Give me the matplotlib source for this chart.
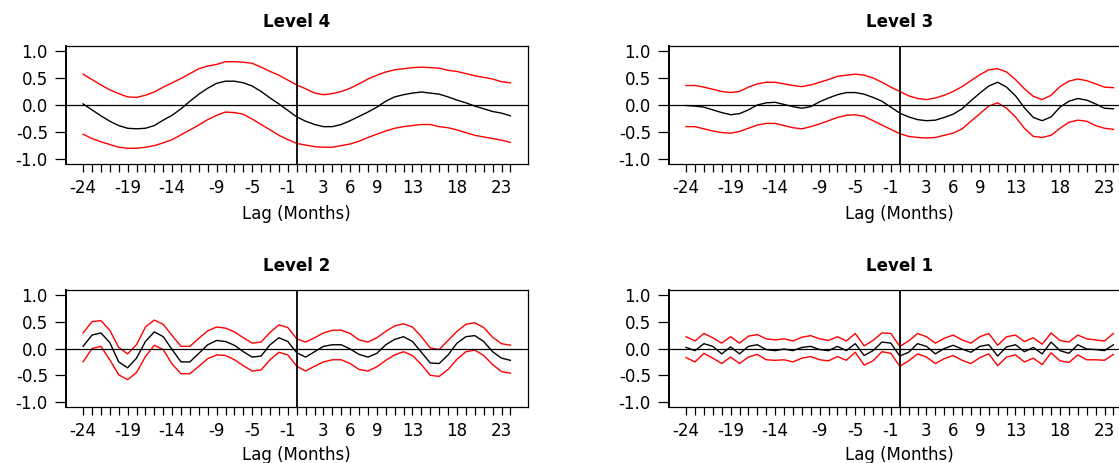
import matplotlib
matplotlib.use("Agg")
import matplotlib.pyplot as plt

plt.rcParams['font.family'] = ['DejaVu Sans']
plt.rcParams['axes.unicode_minus'] = False

lags = list(range(-24, 25))
shown_xtick_labels = [-24, -19, -14, -9, -5, -1, 3, 6, 9, 13, 18, 23]
ytick_values = [-1.0, -0.5, 0.0, 0.5, 1.0]
ytick_labels = ["-1.0", "-0.5", "0.0", "0.5", "1.0"]
titles = ["Level 4", "Level 3", "Level 2", "Level 1"]
xlabel_text = "Lag (Months)"

level4_ccf = [0.02, -0.09, -0.20, -0.30, -0.38, -0.43, -0.44, -0.43, -0.38, -0.28, -0.19, -0.07, 0.07,
              0.20, 0.31, 0.40, 0.44, 0.44, 0.41, 0.35, 0.25, 0.13, 0.02, -0.10, -0.22,
              -0.30, -0.36, -0.40, -0.40, -0.36, -0.29, -0.21, -0.13, -0.04, 0.07, 0.15, 0.19,
              0.22, 0.24, 0.22, 0.20, 0.15, 0.09, 0.04, -0.02, -0.07, -0.12, -0.15, -0.20]
level4_upper = [0.57, 0.47, 0.37, 0.28, 0.21, 0.15, 0.14, 0.18, 0.24, 0.33, 0.41, 0.49, 0.58,
                0.67, 0.72, 0.75, 0.80, 0.80, 0.79, 0.77, 0.70, 0.62, 0.55, 0.46, 0.37,
                0.30, 0.22, 0.19, 0.21, 0.25, 0.31, 0.39, 0.48, 0.55, 0.61, 0.65, 0.67,
                0.69, 0.70, 0.69, 0.68, 0.64, 0.62, 0.58, 0.54, 0.51, 0.48, 0.43, 0.41]
level4_lower = [-0.54, -0.62, -0.68, -0.73, -0.78, -0.80, -0.80, -0.78, -0.75, -0.70, -0.64, -0.55, -0.46,
                -0.37, -0.27, -0.19, -0.13, -0.14, -0.17, -0.26, -0.36, -0.46, -0.56, -0.64, -0.71,
                -0.74, -0.77, -0.78, -0.78, -0.75, -0.72, -0.67, -0.60, -0.54, -0.48, -0.43, -0.40,
                -0.38, -0.36, -0.36, -0.40, -0.42, -0.46, -0.51, -0.56, -0.59, -0.62, -0.65, -0.69]

level3_ccf = [-0.01, -0.02, -0.04, -0.09, -0.14, -0.18, -0.16, -0.09, 0.00, 0.04, 0.05, 0.01, -0.03,
              -0.06, -0.03, 0.06, 0.13, 0.19, 0.23, 0.23, 0.20, 0.14, 0.07, -0.04, -0.15,
              -0.22, -0.27, -0.29, -0.28, -0.23, -0.17, -0.07, 0.08, 0.22, 0.35, 0.42, 0.33,
              0.17, -0.05, -0.23, -0.29, -0.22, -0.04, 0.07, 0.12, 0.09, 0.02, -0.06, -0.07]
level3_upper = [0.36, 0.36, 0.33, 0.29, 0.25, 0.23, 0.25, 0.33, 0.39, 0.42, 0.42, 0.39, 0.36,
                0.34, 0.37, 0.42, 0.47, 0.53, 0.55, 0.57, 0.55, 0.50, 0.42, 0.33, 0.25,
                0.17, 0.12, 0.10, 0.13, 0.18, 0.25, 0.34, 0.45, 0.56, 0.65, 0.67, 0.61,
                0.47, 0.30, 0.16, 0.10, 0.18, 0.34, 0.44, 0.48, 0.45, 0.39, 0.33, 0.32]
level3_lower = [-0.40, -0.40, -0.44, -0.48, -0.51, -0.52, -0.49, -0.43, -0.37, -0.34, -0.34, -0.38, -0.42,
                -0.44, -0.40, -0.35, -0.29, -0.23, -0.19, -0.18, -0.21, -0.29, -0.37, -0.45, -0.53,
                -0.58, -0.60, -0.61, -0.60, -0.56, -0.52, -0.44, -0.30, -0.16, -0.02, 0.04, -0.06,
                -0.22, -0.43, -0.58, -0.60, -0.56, -0.43, -0.32, -0.28, -0.30, -0.38, -0.43, -0.45]

level2_ccf = [0.04, 0.25, 0.29, 0.11, -0.25, -0.36, -0.18, 0.13, 0.31, 0.22, -0.02, -0.25, -0.25,
              -0.09, 0.07, 0.15, 0.13, 0.06, -0.06, -0.16, -0.14, 0.07, 0.20, 0.13, -0.08,
              -0.16, -0.06, 0.04, 0.07, 0.07, -0.01, -0.11, -0.16, -0.09, 0.07, 0.17, 0.22,
              0.13, -0.07, -0.27, -0.28, -0.12, 0.10, 0.22, 0.24, 0.13, -0.06, -0.18, -0.22]
level2_upper = [0.29, 0.50, 0.52, 0.34, 0.02, -0.10, 0.07, 0.40, 0.53, 0.45, 0.24, 0.04, 0.04,
                0.19, 0.33, 0.40, 0.38, 0.31, 0.20, 0.10, 0.12, 0.30, 0.44, 0.39, 0.18,
                0.12, 0.20, 0.29, 0.34, 0.34, 0.28, 0.16, 0.12, 0.20, 0.32, 0.42, 0.46,
                0.40, 0.22, 0.01, -0.02, 0.15, 0.32, 0.45, 0.48, 0.39, 0.21, 0.09, 0.06]
level2_lower = [-0.25, 0.00, 0.04, -0.21, -0.49, -0.58, -0.45, -0.15, 0.06, -0.02, -0.29, -0.47, -0.47,
                -0.33, -0.19, -0.12, -0.13, -0.21, -0.32, -0.42, -0.40, -0.21, -0.07, -0.12, -0.33,
                -0.42, -0.33, -0.25, -0.21, -0.21, -0.28, -0.39, -0.42, -0.34, -0.22, -0.12, -0.06,
                -0.13, -0.30, -0.50, -0.52, -0.39, -0.20, -0.06, -0.03, -0.13, -0.30, -0.43, -0.46]

level1_ccf = [0.02, -0.04, 0.09, 0.04, -0.10, 0.03, -0.10, 0.04, 0.07, -0.02, -0.04, -0.01, -0.04,
              0.02, 0.04, -0.02, -0.04, 0.04, -0.04, 0.09, -0.13, -0.04, 0.12, 0.10, -0.14,
              -0.07, 0.09, 0.04, -0.10, 0.00, 0.06, -0.01, -0.07, 0.04, 0.07, -0.14, 0.03,
              0.07, -0.06, 0.02, -0.10, 0.12, -0.04, -0.09, 0.07, -0.01, -0.02, -0.04, 0.07]
level1_upper = [0.22, 0.14, 0.28, 0.20, 0.10, 0.22, 0.10, 0.23, 0.26, 0.18, 0.16, 0.18, 0.14,
                0.21, 0.24, 0.18, 0.15, 0.22, 0.14, 0.28, 0.05, 0.15, 0.29, 0.28, 0.04,
                0.14, 0.28, 0.22, 0.10, 0.19, 0.25, 0.16, 0.10, 0.22, 0.28, 0.06, 0.22,
                0.25, 0.13, 0.20, 0.08, 0.29, 0.15, 0.12, 0.25, 0.18, 0.16, 0.14, 0.28]
level1_lower = [-0.17, -0.25, -0.09, -0.18, -0.28, -0.16, -0.28, -0.16, -0.11, -0.21, -0.22, -0.21, -0.25,
                -0.18, -0.15, -0.21, -0.23, -0.15, -0.22, -0.07, -0.31, -0.23, -0.06, -0.09, -0.33,
                -0.23, -0.10, -0.16, -0.28, -0.19, -0.13, -0.22, -0.28, -0.17, -0.10, -0.32, -0.16,
                -0.12, -0.25, -0.18, -0.30, -0.08, -0.23, -0.26, -0.12, -0.21, -0.21, -0.22, -0.11]

W, H = 1119, 463
fig = plt.figure(figsize=(W / 100, H / 100), dpi=100)

# axes rectangles in pixels: (left, top, right, bottom), and x-label offset below box
rects_px = [(66, 46, 527.5, 164), (669, 46, 1130.5, 164),
            (66, 290, 527.5, 407), (669, 290, 1130.5, 407)]
label_offsets = [41, 41, 39, 39]
series = [(level4_ccf, level4_upper, level4_lower),
          (level3_ccf, level3_upper, level3_lower),
          (level2_ccf, level2_upper, level2_lower),
          (level1_ccf, level1_upper, level1_lower)]

FS = 12
for (l, t, r, b), off, title, (ccf, up, lo) in zip(rects_px, label_offsets, titles, series):
    ax = fig.add_axes([l / W, 1 - b / H, (r - l) / W, (b - t) / H])
    ax.plot(lags, up, color='#ff0000', lw=1.0)
    ax.plot(lags, lo, color='#ff0000', lw=1.0)
    ax.plot(lags, ccf, color='black', lw=1.0)
    ax.axhline(0, color='black', lw=0.9)
    ax.axvline(0, color='black', lw=1.3)
    ax.set_xlim(-25.92, 25.92)
    ax.set_ylim(-1.09, 1.09)
    ax.set_xticks(lags)
    ax.set_xticklabels([str(v) if v in shown_xtick_labels else "" for v in lags])
    ax.set_yticks(ytick_values)
    ax.set_yticklabels(ytick_labels)
    ax.tick_params(axis='x', direction='out', length=6, width=0.9, pad=5, labelsize=FS)
    ax.tick_params(axis='y', direction='out', length=8, width=0.9, pad=5, labelsize=FS)
    for s in ax.spines.values():
        s.set_linewidth(0.9)
    ax.spines['left'].set_linewidth(1.4)
    ax.set_title(title, fontsize=FS, fontweight='bold', pad=14)
    ax.set_xlabel(xlabel_text, fontsize=FS)
    ax.xaxis.set_label_coords(0.5, -off / (b - t))

fig.savefig("out.png", dpi=100)
